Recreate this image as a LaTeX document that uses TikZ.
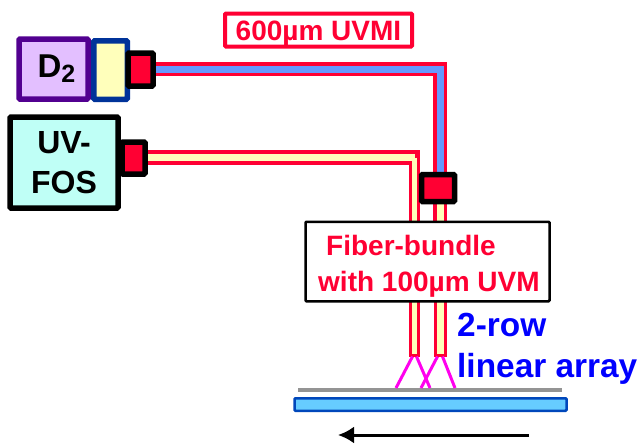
\documentclass[tikz,border=0pt]{standalone}
\usepackage{fontspec}
\setmainfont{Liberation Sans}
\usetikzlibrary{arrows.meta}
\definecolor{fibred}{HTML}{FF0033}
\definecolor{fibyellow}{HTML}{FFFFBB}
\definecolor{fibblue}{HTML}{6699FF}
\definecolor{lampviolet}{HTML}{E3BFFF}
\definecolor{lampedge}{HTML}{520090}
\definecolor{lensedge}{HTML}{003399}
\definecolor{specfill}{HTML}{BFFFF6}
\definecolor{slidefill}{HTML}{66CCFF}
\definecolor{slideedge}{HTML}{0047BB}
\definecolor{beamcolor}{HTML}{FF00EE}
\tikzset{
  unit/.style={draw=black,line width=5.5pt,rounded corners=1pt,inner sep=0pt},
  plug/.style={unit,fill=fibred},
  tube/.style={draw=fibred,fill=fibyellow,line width=3pt,inner sep=0pt,minimum width=8pt,minimum height=60pt},
  beam/.style={draw=beamcolor,line width=3pt},
  label/.style={font=\fontsize{#1}{#1}\selectfont\bfseries,inner sep=0pt}
}
\begin{document}
\begin{tikzpicture}[x=1pt,y=-1pt]
\useasboundingbox (0,0) rectangle (637,445);
\coordinate (fosbend) at (414.5,157.5);
\coordinate (uvmbend) at (440,69);
\coordinate (bundletopa) at (414.5,221);
\coordinate (bundletopb) at (440,221);
% sources
\node[unit,draw=lampedge,fill=lampviolet,minimum width=69pt,minimum height=60pt,label=33] (lamp) at (53.5,69) {\hspace*{6pt}D\raisebox{-5pt}{\fontsize{25}{25}\selectfont 2}};
\node[unit,draw=lensedge,fill=fibyellow,minimum width=33.5pt,minimum height=58.5pt] (lens) at (110.5,70) {};
\node[unit,fill=specfill,minimum width=108pt,minimum height=91pt,align=center,label=32] (fos) at (64,162.5) {UV-\\[8pt]FOS};
% fibers
\draw[fibred,line width=14pt] (uvmbend-|lens.east) -- ([xshift=7pt]uvmbend);
\draw[fibred,line width=14pt] ([yshift=7pt]uvmbend) -- (bundletopb);
\draw[fibred,line width=15pt] (fosbend-|fos.east) -- ([xshift=5.5pt]fosbend);
\draw[fibred,line width=11pt] ([yshift=7.5pt]fosbend) -- (bundletopa);
\draw[fibblue,line width=7pt] (uvmbend-|lens.east) -- (uvmbend) -- ([yshift=30pt]bundletopb);
\draw[fibyellow,line width=6.5pt] (fosbend-|fos.east) -- (fosbend);
\draw[fibyellow,line width=5pt] (fosbend) -- (bundletopa);
\draw[fibyellow,line width=7pt] ([yshift=21pt]bundletopb) -- (bundletopb);
% connectors
\node[plug,minimum width=25pt,minimum height=33pt] (lampplug) at (140.5,69.5) {};
\node[plug,minimum width=23pt,minimum height=32pt] (fosplug) at (133.5,158) {};
\node[plug,minimum width=33pt,minimum height=27pt] (bundleplug) at (438,188) {};
% array
\node[tube,anchor=south] (rowa) at (414.5,356.5) {};
\node[tube,minimum width=10.5pt,anchor=south] (rowb) at (440.5,356.5) {};
% bundle
\node[draw=black,fill=white,line width=2.5pt,rounded corners=1pt,minimum width=244pt,minimum height=79.5pt,inner sep=0pt] (bundle) at (427.5,261.5) {};
\node[label=28,text=fibred,anchor=base west] (bundleupper) at (326,255) {Fiber-bundle};
\node[label=28,text=fibred,anchor=base west] (bundlelower) at (318,291) {with 100µm UVM};
\node[draw=fibred,fill=white,line width=4pt,rounded corners=1pt,minimum width=187pt,minimum height=33pt,inner sep=0pt,label=28,text=fibred,text height=20pt,text depth=0pt] (uvmi) at (318.5,30) {600µm UVMI};
\node[label=33.4,text=blue,anchor=base west] (arraytop) at (457,336) {2-row};
\node[label=33.4,text=blue,anchor=base west] (arraybot) at (457,377) {linear array};
\node[fill=black!42,minimum width=264pt,minimum height=4pt,inner sep=0pt] (mask) at (430,390) {};
\node[draw=slideedge,fill=slidefill,line width=2.5pt,rounded corners=1pt,minimum width=272pt,minimum height=12.5pt,inner sep=0pt] (slide) at (430.5,404.5) {};
\coordinate (hita) at (396,388);
\coordinate (hitb) at (430,388);
\coordinate (hitc) at (421,388);
\coordinate (hitd) at (455,388);
\draw[beam] ([xshift=-2pt]rowa.south) -- (hita);
\draw[beam] ([xshift=2pt]rowa.south) -- (hitb);
\draw[beam] ([xshift=-3pt]rowb.south) -- (hitc);
\draw[beam] ([xshift=2pt]rowb.south) -- (hitd);
\coordinate (scanstart) at (529,435);
\coordinate (scanend) at (338,435);
\draw[-{Latex[length=16pt,width=17pt]},line width=3pt] (scanstart) -- (scanend);
\end{tikzpicture}
\end{document}
